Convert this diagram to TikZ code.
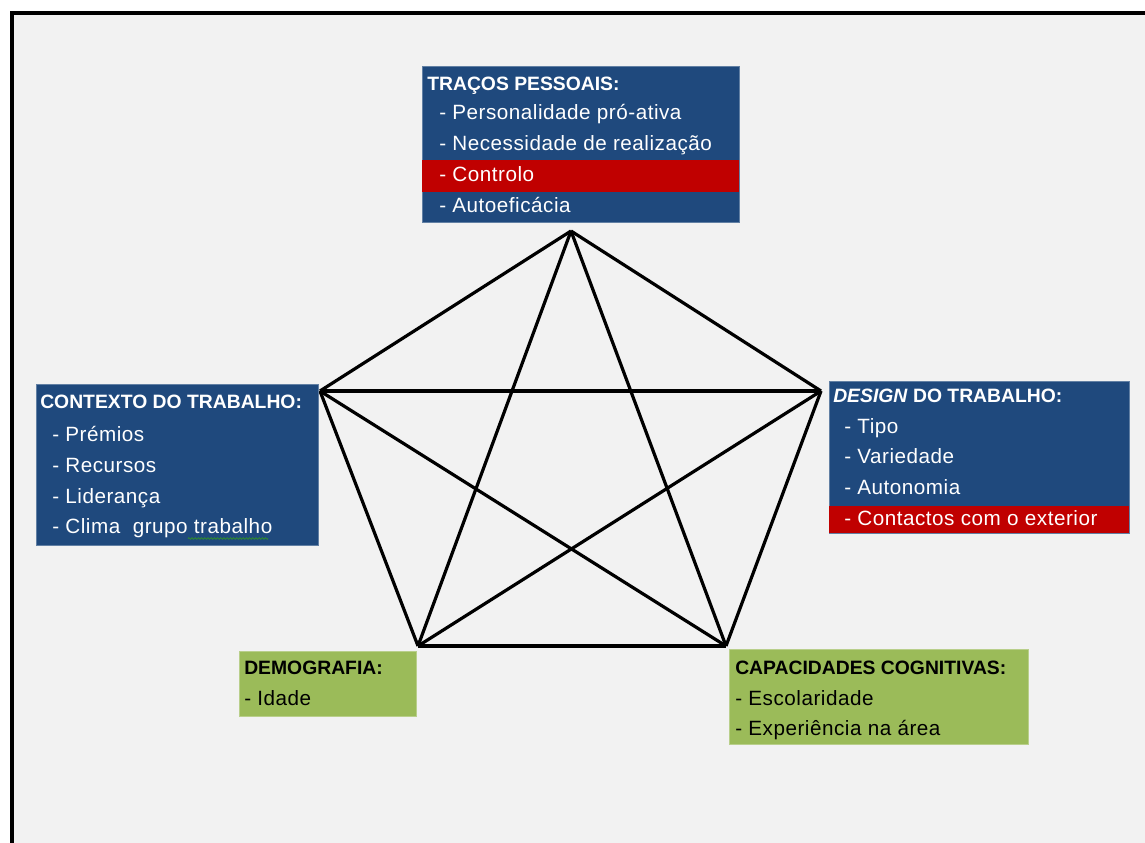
\documentclass[tikz,border=0pt]{standalone}
\usepackage{fontspec}
\setmainfont{Liberation Sans}
\newfontfamily\itemfamily[LetterSpace=2.5]{Liberation Sans}
\usetikzlibrary{decorations.pathmorphing}

\definecolor{panelbg}{HTML}{F2F2F2}
\definecolor{boxblue}{HTML}{1F497D}
\definecolor{boxred}{HTML}{C00000}
\definecolor{boxgreen}{HTML}{9BBB59}
\definecolor{spellgreen}{HTML}{2E8B2E}

\tikzset{
  panel/.style={rectangle, inner sep=0pt, draw=#1!70!white, line width=0.5pt, fill=#1},
  band/.style={rectangle, inner sep=0pt, fill=boxred},
  heading/.style={anchor=base west, inner sep=0pt, font=\fontsize{14.5pt}{17pt}\selectfont\bfseries},
  item/.style={anchor=base west, inner sep=0pt, font=\fontsize{15.5pt}{18pt}\selectfont\itemfamily},
  edge/.style={draw=black, line width=2.4pt},
}

\begin{document}
\begin{tikzpicture}[x=0.75pt, y=-0.75pt]
\useasboundingbox (0,0) rectangle (1145,842);
\fill[white] (0,0) rectangle (1145,842);
\fill[panelbg] (12,13) rectangle (1150,850);
\draw[line width=3pt] (12,850) -- (12,13) -- (1150,13);

% Corners of the pentagon
\coordinate (T)  at (571,231);
\coordinate (L)  at (320,391);
\coordinate (R)  at (821,391);
\coordinate (BL) at (418,646);
\coordinate (BR) at (726,646);

% Every pair of corners is joined
\foreach \a/\b in {T/L, T/R, T/BL, T/BR, L/R, L/BL, L/BR, R/BL, R/BR, BL/BR}
  \draw[edge] (\a) -- (\b);

% Traços pessoais
\node[panel=boxblue, minimum width=237.75pt, minimum height=117pt] (traits) at (580.5,144) {};
\node[band, minimum width=237.75pt, minimum height=24pt] (traitsband) at (580.5,176) {};
\node[heading, text=white] (traitsT) at (427,90) {TRAÇOS PESSOAIS:};
\node[item, text=white] (traits1) at (439,119) {- Personalidade pró-ativa};
\node[item, text=white] (traits2) at (439,150) {- Necessidade de realização};
\node[item, text=white] (traits3) at (439,181) {- Controlo};
\node[item, text=white] (traits4) at (439,212) {- Autoeficácia};

% Contexto do trabalho
\node[panel=boxblue, minimum width=211.5pt, minimum height=120.75pt] (context) at (177,464.5) {};
\node[heading, text=white] (contextT) at (40,408) {CONTEXTO DO TRABALHO:};
\node[item, text=white] (context1) at (52,441) {- Prémios};
\node[item, text=white] (context2) at (52,472) {- Recursos};
\node[item, text=white] (context3) at (52,503) {- Liderança};
\node[item, text=white] (context4) at (52,533) {- Clima\ \ grupo trabalho};
\draw[spellgreen, line width=0.6pt, decorate,
      decoration={zigzag, amplitude=0.6pt, segment length=2.4pt}]
  (188,538.5) -- (268,538.5);

% Design do trabalho
\node[panel=boxblue, minimum width=225pt, minimum height=114pt] (design) at (979,457) {};
\node[band, minimum width=225pt, minimum height=20.25pt] (designband) at (979,519.5) {};
\node[heading, text=white] (designT) at (833,402) {\textit{DESIGN} DO TRABALHO:};
\node[item, text=white] (design1) at (844,433) {- Tipo};
\node[item, text=white] (design2) at (844,463) {- Variedade};
\node[item, text=white] (design3) at (844,494) {- Autonomia};
\node[item, text=white] (design4) at (844,525) {- Contactos com o exterior};

% Demografia
\node[panel=boxgreen, minimum width=132.75pt, minimum height=48.75pt] (demo) at (327.5,683.5) {};
\node[heading, text=black] (demoT) at (244,674) {DEMOGRAFIA:};
\node[item, text=black] (demo1) at (244,705) {- Idade};

% Capacidades cognitivas
\node[panel=boxgreen, minimum width=224.25pt, minimum height=71.25pt] (cog) at (878.5,696.5) {};
\node[heading, text=black] (cogT) at (735,674) {CAPACIDADES COGNITIVAS:};
\node[item, text=black] (cog1) at (735,705) {- Escolaridade};
\node[item, text=black] (cog2) at (735,735) {- Experiência na área};
\end{tikzpicture}
\end{document}
